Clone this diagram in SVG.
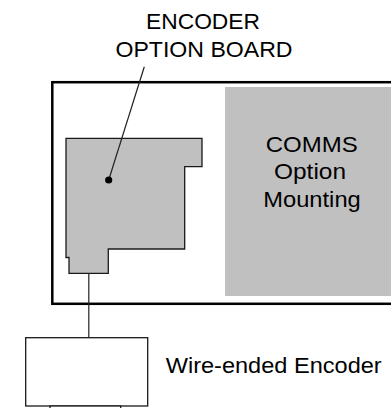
<svg xmlns="http://www.w3.org/2000/svg" width="391" height="408" viewBox="0 0 391 408">
  <style>
    .lbl { font-family: "Liberation Sans", Arial, sans-serif; font-size: 22px; fill: #000; }
    .mid { text-anchor: middle; }
    .grey { fill: #c0c0c0; }
    .conn { fill: none; stroke: #222; stroke-width: 1.2; }
  </style>
  <rect width="391" height="408" fill="#fff"/>

  <g id="drive-housing">
    <rect x="52.3" y="82.2" width="342" height="221.6" fill="#fff" stroke="#000" stroke-width="2.5"/>
  </g>

  <g id="comms-option-mounting">
    <rect class="grey" x="225" y="87" width="166" height="209"/>
    <text class="lbl mid" x="311.7" y="151.7" textLength="92" lengthAdjust="spacingAndGlyphs">COMMS</text>
    <text class="lbl mid" x="310" y="178.5" textLength="72" lengthAdjust="spacingAndGlyphs">Option</text>
    <text class="lbl mid" x="312" y="206.5" textLength="97.5" lengthAdjust="spacingAndGlyphs">Mounting</text>
  </g>

  <g id="encoder-option-board">
    <polygon class="grey" points="66,138.3 202,138.3 202,166.7 184.7,166.7 184.7,249 108.3,249 108.3,273.3 69,273.3 69,257.5 66,257.5" stroke="#1a1a1a" stroke-width="1.3"/>
  </g>

  <g id="encoder-option-board-label">
    <text class="lbl mid" x="203" y="29.3" textLength="114" lengthAdjust="spacingAndGlyphs">ENCODER</text>
    <text class="lbl mid" x="204" y="56.7" textLength="177" lengthAdjust="spacingAndGlyphs">OPTION BOARD</text>
  </g>

  <g id="wire-ended-encoder">
    <rect x="25.7" y="337.7" width="122" height="68.3" fill="#fff" stroke="#1a1a1a" stroke-width="1.3"/>
    <rect x="50" y="406" width="70.7" height="4" fill="#fff" stroke="#1a1a1a" stroke-width="1.3"/>
    <text class="lbl" x="165.7" y="373.3" textLength="216" lengthAdjust="spacingAndGlyphs">Wire-ended Encoder</text>
  </g>

  <g id="connectors">
    <line class="conn" x1="108.7" y1="180" x2="144.3" y2="66.7"/>
    <circle cx="108.7" cy="180" r="3.6" fill="#000"/>
    <line class="conn" x1="88.8" y1="273.3" x2="88.8" y2="337.7"/>
  </g>
</svg>
